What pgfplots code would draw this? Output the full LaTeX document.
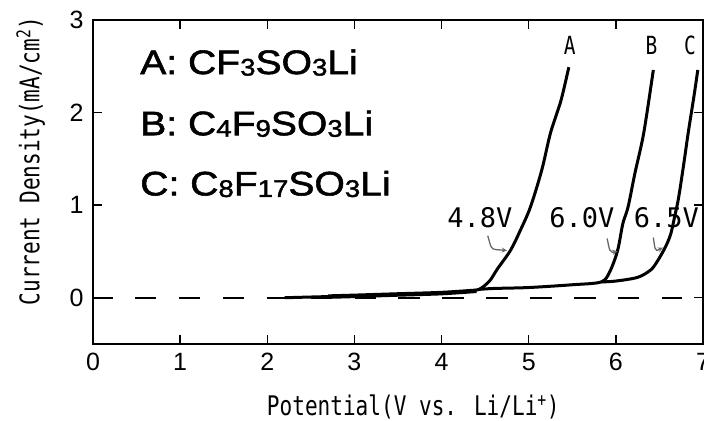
\documentclass[border=0pt]{standalone}
\usepackage{pgfplots}
\pgfplotsset{compat=1.18}
\usepackage{fontspec}
\setmainfont{Liberation Sans}
\newfontfamily\monof{DejaVu Sans Mono}
\newfontfamily\monon[FakeStretch=0.78]{DejaVu Sans Mono}
\newfontfamily\legf[FakeStretch=1.15,FakeBold=1.6]{Liberation Sans}
\newcommand{\sub}[1]{\raisebox{-1.5bp}{\fontsize{24bp}{24bp}\selectfont #1}}
\begin{document}
\begin{tikzpicture}
\begin{axis}[name=ax,
  width=610bp, height=324bp, scale only axis,
  xmin=0, xmax=7, ymin=-0.5, ymax=3,
  xtick={0,1,2,3,4,5,6,7}, ytick={0,1,2,3},
  tick align=inside, major tick length=9bp,
  axis line style={line width=1.8bp},
  every tick/.style={line width=1.3bp, black},
  /pgf/number format/assume math mode=true,
  ticklabel style={font=\fontsize{25bp}{28bp}\selectfont},
  xticklabel style={yshift=-6bp},
  yticklabel style={xshift=-6bp},
  xlabel={\monon\fontsize{27bp}{30bp}\selectfont Potential(V vs. Li/Li\textsuperscript{+})},
  xlabel style={at={(axis description cs:0.525,-0.194)}, anchor=center},
  ylabel={\monon\fontsize{27bp}{30bp}\selectfont Current Density(mA/cm\textsuperscript{2})},
  ylabel style={at={(axis description cs:-0.102,0.565)}, anchor=center, rotate=0},
  clip=false,
]
% zero reference line
\addplot[black, line width=1.8bp, dash pattern=on 21.5bp off 22.4bp, dash phase=1.9bp]
  coordinates {(0,0) (6.76,0)};
% thick noisy part of the common baseline
\addplot[black, line width=4.5bp, smooth] coordinates {
 (2.7,0.012) (3,0.02) (3.5,0.035) (4,0.05) (4.4,0.075)};
% curve A
\addplot[black, line width=3bp, smooth, tension=0.5] coordinates {
 (2.2,0) (2.6,0.01) (3,0.02) (3.5,0.035) (4,0.05) (4.3,0.07) (4.43,0.09)
 (4.55,0.18) (4.64,0.31) (4.79,0.51) (4.9,0.72) (5.02,0.98) (5.15,1.38)
 (5.25,1.78) (5.37,2.13) (5.46,2.49)};
% curve B
\addplot[black, line width=3bp, smooth, tension=0.5] coordinates {
 (4.43,0.09) (4.6,0.1) (5,0.11) (5.5,0.14) (5.83,0.17) (5.93,0.28)
 (6.02,0.51) (6.08,0.8) (6.14,0.98) (6.22,1.35) (6.32,1.78) (6.43,2.46)};
% curve C
\addplot[black, line width=3bp, smooth, tension=0.5] coordinates {
 (5.83,0.17) (6.0,0.18) (6.25,0.22) (6.4,0.3) (6.48,0.4) (6.57,0.55)
 (6.63,0.69) (6.68,0.9) (6.72,1.08) (6.78,1.45) (6.83,1.78) (6.9,2.2) (6.94,2.46)};
% legend text
\node[anchor=base west, inner sep=0] at (axis cs:0.54,2.416) {\legf\fontsize{34bp}{36bp}\selectfont A: CF\sub{3}SO\sub{3}Li};
\node[anchor=base west, inner sep=0] at (axis cs:0.54,1.755) {\legf\fontsize{34bp}{36bp}\selectfont B: C\sub{4}F\sub{9}SO\sub{3}Li};
\node[anchor=base west, inner sep=0] at (axis cs:0.54,1.105) {\legf\fontsize{34bp}{36bp}\selectfont C: C\sub{8}F\sub{17}SO\sub{3}Li};
% curve labels
\node[inner sep=0] at (axis cs:5.47,2.73) {\monon\fontsize{25bp}{28bp}\selectfont A};
\node[inner sep=0] at (axis cs:6.41,2.73) {\monon\fontsize{25bp}{28bp}\selectfont B};
\node[inner sep=0] at (axis cs:6.85,2.73) {\monon\fontsize{25bp}{28bp}\selectfont C};
% voltage annotations
\node[inner sep=0] at (axis cs:4.44,0.87) {\monof\fontsize{27bp}{30bp}\selectfont 4.8V};
\node[inner sep=0] at (axis cs:5.61,0.87) {\monof\fontsize{27bp}{30bp}\selectfont 6.0V};
\node[inner sep=0] at (axis cs:6.58,0.87) {\monof\fontsize{27bp}{30bp}\selectfont 6.5V};
\draw[line width=1.3bp, gray!80!black, ->, >=stealth] (axis cs:4.53,0.67) .. controls (axis cs:4.57,0.53) .. (axis cs:4.62,0.52) -- (axis cs:4.75,0.51);
\draw[line width=1.3bp, gray!80!black, ->, >=stealth] (axis cs:5.90,0.64) .. controls (axis cs:5.93,0.50) .. (axis cs:5.96,0.49) -- (axis cs:6.02,0.50);
\draw[line width=1.3bp, gray!80!black, ->, >=stealth] (axis cs:6.43,0.65) .. controls (axis cs:6.45,0.52) .. (axis cs:6.47,0.51) -- (axis cs:6.54,0.54);
\end{axis}
\pgfresetboundingbox
\path ([shift={(-93bp,-77bp)}]ax.south west) rectangle ([shift={(611bp,344bp)}]ax.south west);
\end{tikzpicture}
\end{document}
